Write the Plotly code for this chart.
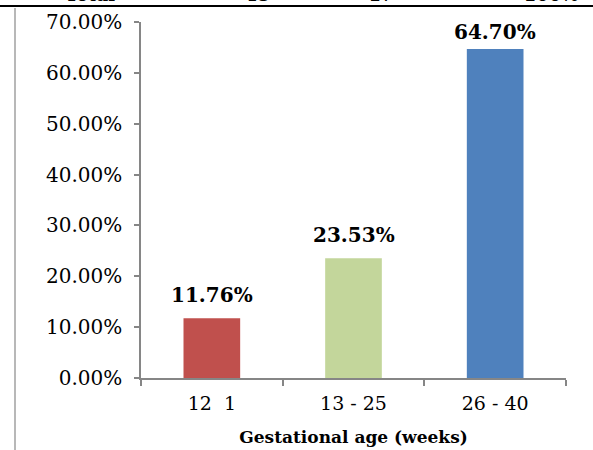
import plotly.graph_objects as go

categories = ["12  1", "13 - 25", "26 - 40"]
values = [0.1176, 0.2353, 0.6470]
labels = ["11.76%", "23.53%", "64.70%"]
colors = ["#C0504D", "#C3D69B", "#4F81BD"]
y_ticks = [0, 0.1, 0.2, 0.3, 0.4, 0.5, 0.6, 0.7]
y_tick_text = ["0.00%", "10.00%", "20.00%", "30.00%", "40.00%", "50.00%", "60.00%", "70.00%"]
x_title = "Gestational age (weeks)"
# clipped table row above the chart (only its lower edge is visible)
table_row = ["Total", "48", "17", "100%"]
table_row_pos = [90, 257, 381, 551]

serif = "DejaVu Serif"
W, H = 593, 450
B = 72  # bottom margin
Y_MAX = 0.7
PH = H - B  # paper height in px (t=0)
PLOT_H = PH - 22

fig = go.Figure()
fig.add_trace(go.Bar(
    x=categories, y=values, marker=dict(color=colors, line=dict(width=0)),
    width=0.4, hoverinfo="skip", xaxis="x", yaxis="y",
))
# table row text, clipped by its own thin strip subplot
fig.add_trace(go.Scatter(
    x=table_row_pos, y=[10] * len(table_row), text=["<b>" + t + "</b>" for t in table_row],
    mode="text", textposition="middle center", cliponaxis=True,
    textfont=dict(family=serif, size=18, color="#000000"),
    hoverinfo="skip", xaxis="x2", yaxis="y2",
))

for c, v, t in zip(categories, values, labels):
    room = (Y_MAX - v) / Y_MAX * PLOT_H  # px between bar top and plot top
    shift = min(9, room - 24)            # keep label inside plot area (like Excel)
    fig.add_annotation(x=c, y=v, text="<b>" + t + "</b>", showarrow=False,
                       yanchor="bottom", yshift=shift, xref="x", yref="y",
                       font=dict(family=serif, size=20, color="#000000"))

# table border line above the chart and page edge line
fig.add_shape(type="line", xref="paper", yref="paper", x0=0, x1=1,
              y0=1 - 6 / PH, y1=1 - 6 / PH, line=dict(color="#000000", width=2))
fig.add_shape(type="line", xref="paper", yref="paper", x0=15 / W, x1=15 / W,
              y0=1 - 8 / PH, y1=-B / PH, line=dict(color="#A0A0A0", width=1.5))

fig.update_layout(
    width=W, height=H,
    margin=dict(l=0, r=0, t=0, b=B, pad=0, autoexpand=False),
    paper_bgcolor="white", plot_bgcolor="white",
    showlegend=False, bargap=0.6,
    font=dict(family=serif, size=18, color="#000000"),
    xaxis=dict(
        domain=[141 / W, 566 / W], anchor="y", automargin=False,
        type="category", showline=True, linecolor="#868686", linewidth=1.5,
        ticks="outside", ticklen=6, tickcolor="#868686", tickwidth=1.5,
        tickson="boundaries", showgrid=False, zeroline=False,
        tickfont=dict(family=serif, size=19), ticklabelstandoff=7,
        title=dict(text="<b>" + x_title + "</b>", font=dict(family=serif, size=17), standoff=19),
    ),
    yaxis=dict(
        domain=[0, PLOT_H / PH], anchor="x", automargin=False,
        range=[0, Y_MAX], tickvals=y_ticks, ticktext=y_tick_text,
        showline=True, linecolor="#868686", linewidth=1.5,
        ticks="outside", ticklen=5, tickcolor="#868686", tickwidth=1.5,
        showgrid=False, zeroline=False,
        tickfont=dict(family=serif, size=20), ticklabelstandoff=8,
    ),
    xaxis2=dict(domain=[0, 1], anchor="y2", range=[0, W], visible=False,
                fixedrange=True, automargin=False),
    yaxis2=dict(domain=[1 - 6 / PH, 1], anchor="x2", range=[0, 6], visible=False,
                fixedrange=True, automargin=False),
)

fig.write_html("out.html", config={"displayModeBar": False},
               post_script="document.body.style.margin='0';document.body.style.overflow='hidden';")
